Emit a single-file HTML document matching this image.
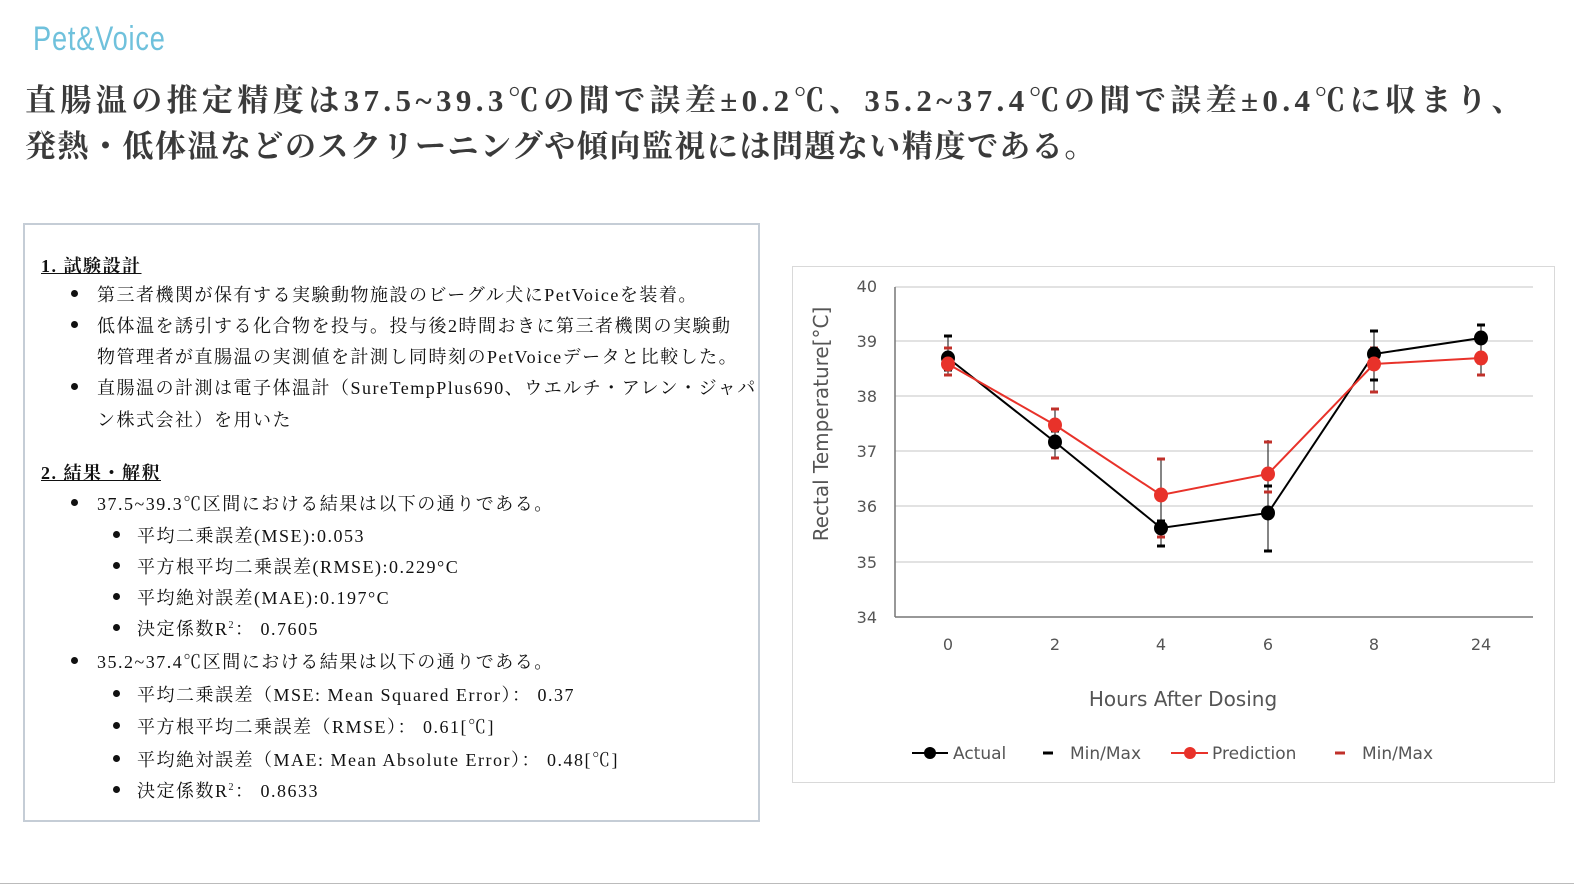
<!DOCTYPE html>
<html><head><meta charset="utf-8"><style>
body{margin:0;width:1574px;height:888px;background:#fff;position:relative;overflow:hidden;font-family:"Liberation Serif","Noto Serif CJK SC",serif;}
.logo{position:absolute;left:33px;top:20px;font-family:"Liberation Sans",sans-serif;font-size:34px;color:#6fc1dc;font-weight:300;letter-spacing:1px;transform:scaleX(0.8);transform-origin:left}
.title{position:absolute;left:25px;top:78px;font-size:31px;font-weight:bold;color:#3a3a3a;line-height:46px;white-space:nowrap}
.box{position:absolute;left:23px;top:223px;width:733px;height:595px;border:2px solid #c5cdd6;}
.box .t{position:absolute;font-size:18px;color:#111;white-space:nowrap;letter-spacing:1.5px}
.b{position:absolute;width:7px;height:7px;border-radius:50%;background:#111}
.h{font-weight:bold;text-decoration:underline}
.cbox{position:absolute;left:792px;top:266px;width:761px;height:515px;border:1px solid #d9d9d9}
.hr{position:absolute;left:0;top:883px;width:1574px;height:1px;background:#bbb}
</style></head><body>
<div class="logo">Pet&amp;Voice</div>
<div class="title"><div style="letter-spacing:4.4px">直腸温の推定精度は37.5~39.3℃の間で誤差±0.2℃、35.2~37.4℃の間で誤差±0.4℃に収まり、</div><div style="letter-spacing:1.5px">発熱・低体温などのスクリーニングや傾向監視には問題ない精度である。</div></div>
<div class="box">
<div class="t h" style="left:16px;top:27px">1. 試験設計</div>
<div class="b" style="left:46px;top:65px"></div><div class="t" style="left:72px;top:56px">第三者機関が保有する実験動物施設のビーグル犬にPetVoiceを装着。</div>
<div class="b" style="left:46px;top:96px"></div><div class="t" style="left:72px;top:87px">低体温を誘引する化合物を投与。投与後2時間おきに第三者機関の実験動</div>
<div class="t" style="left:72px;top:118px">物管理者が直腸温の実測値を計測し同時刻のPetVoiceデータと比較した。</div>
<div class="b" style="left:46px;top:158px"></div><div class="t" style="left:72px;top:149px">直腸温の計測は電子体温計（SureTempPlus690、ウエルチ・アレン・ジャパ</div>
<div class="t" style="left:72px;top:181px">ン株式会社）を用いた</div>
<div class="t h" style="left:16px;top:234px">2. 結果・解釈</div>
<div class="b" style="left:46px;top:274px"></div><div class="t" style="left:72px;top:265px">37.5~39.3℃区間における結果は以下の通りである。</div>
<div class="b" style="left:88px;top:306px"></div><div class="t" style="left:112px;top:297px">平均二乗誤差(MSE):0.053</div>
<div class="b" style="left:88px;top:337px"></div><div class="t" style="left:112px;top:328px">平方根平均二乗誤差(RMSE):0.229°C</div>
<div class="b" style="left:88px;top:368px"></div><div class="t" style="left:112px;top:359px">平均絶対誤差(MAE):0.197°C</div>
<div class="b" style="left:88px;top:399px"></div><div class="t" style="left:112px;top:390px">決定係数R<sup style="font-size:10px">2</sup>： 0.7605</div>
<div class="b" style="left:46px;top:432px"></div><div class="t" style="left:72px;top:423px">35.2~37.4℃区間における結果は以下の通りである。</div>
<div class="b" style="left:88px;top:465px"></div><div class="t" style="left:112px;top:456px">平均二乗誤差（MSE: Mean Squared Error）： 0.37</div>
<div class="b" style="left:88px;top:497px"></div><div class="t" style="left:112px;top:488px">平方根平均二乗誤差（RMSE）： 0.61[℃]</div>
<div class="b" style="left:88px;top:530px"></div><div class="t" style="left:112px;top:521px">平均絶対誤差（MAE: Mean Absolute Error）： 0.48[℃]</div>
<div class="b" style="left:88px;top:561px"></div><div class="t" style="left:112px;top:552px">決定係数R<sup style="font-size:10px">2</sup>： 0.8633</div>
</div>
<div class="cbox"></div>
<svg style="position:absolute;left:0;top:0" width="1574" height="888" font-family="DejaVu Sans, sans-serif">
<g stroke="#d9d9d9" stroke-width="1.5">
<line x1="895" x2="1533" y1="287" y2="287"/><line x1="895" x2="1533" y1="341" y2="341"/><line x1="895" x2="1533" y1="396" y2="396"/><line x1="895" x2="1533" y1="451" y2="451"/><line x1="895" x2="1533" y1="506" y2="506"/><line x1="895" x2="1533" y1="562" y2="562"/>
</g>
<line x1="895" x2="895" y1="287" y2="617" stroke="#777" stroke-width="1.5"/>
<line x1="895" x2="1533" y1="617" y2="617" stroke="#777" stroke-width="1.5"/>
<g font-size="16" fill="#555" text-anchor="end">
<text x="877" y="292">40</text><text x="877" y="347">39</text><text x="877" y="402">38</text><text x="877" y="457">37</text><text x="877" y="512">36</text><text x="877" y="568">35</text><text x="877" y="623">34</text></g>
<g font-size="16" fill="#555" text-anchor="middle">
<text x="948" y="650">0</text><text x="1055" y="650">2</text><text x="1161" y="650">4</text><text x="1268" y="650">6</text><text x="1374" y="650">8</text><text x="1481" y="650">24</text></g>
<text x="1183" y="706" font-size="20" fill="#555" text-anchor="middle">Hours After Dosing</text>
<text transform="translate(828,424) rotate(-90)" font-size="20" fill="#555" text-anchor="middle">Rectal Temperature[°C]</text>
<g stroke="#333" stroke-width="1.2">
<line x1="948" x2="948" y1="336" y2="375"/><line x1="1055" x2="1055" y1="409" y2="458"/><line x1="1161" x2="1161" y1="459" y2="546"/><line x1="1268" x2="1268" y1="440" y2="551"/><line x1="1374" x2="1374" y1="331" y2="392"/><line x1="1481" x2="1481" y1="325" y2="375"/>
</g>
<g stroke="#000" stroke-width="3">
<line x1="944" x2="952" y1="336" y2="336"/><line x1="944" x2="952" y1="370" y2="370"/>
<line x1="1051" x2="1059" y1="431" y2="431"/><line x1="1157" x2="1165" y1="521" y2="521"/><line x1="1157" x2="1165" y1="546" y2="546"/>
<line x1="1264" x2="1272" y1="486" y2="486"/><line x1="1264" x2="1272" y1="551" y2="551"/>
<line x1="1370" x2="1378" y1="331" y2="331"/><line x1="1370" x2="1378" y1="380" y2="380"/>
<line x1="1477" x2="1485" y1="325" y2="325"/><line x1="1477" x2="1485" y1="363" y2="363"/>
</g>
<g stroke="#c0302a" stroke-width="3">
<line x1="944" x2="952" y1="348" y2="348"/><line x1="944" x2="952" y1="375" y2="375"/>
<line x1="1051" x2="1059" y1="409" y2="409"/><line x1="1051" x2="1059" y1="458" y2="458"/>
<line x1="1157" x2="1165" y1="459" y2="459"/><line x1="1157" x2="1165" y1="537" y2="537"/>
<line x1="1264" x2="1272" y1="442" y2="442"/><line x1="1264" x2="1272" y1="492" y2="492"/>
<line x1="1370" x2="1378" y1="348" y2="348"/><line x1="1370" x2="1378" y1="392" y2="392"/>
<line x1="1477" x2="1485" y1="337" y2="337"/><line x1="1477" x2="1485" y1="375" y2="375"/>
</g>
<polyline points="948,358 1055,442 1161,528 1268,513 1374,354 1481,338" fill="none" stroke="#000" stroke-width="2"/>
<polyline points="948,364 1055,425 1161,495 1268,474 1374,364 1481,358" fill="none" stroke="#e8322a" stroke-width="2"/>
<g fill="#000"><ellipse cx="948" cy="358" rx="7" ry="7.5"/><ellipse cx="1055" cy="442" rx="7" ry="7.5"/><ellipse cx="1161" cy="528" rx="7" ry="7.5"/><ellipse cx="1268" cy="513" rx="7" ry="7.5"/><ellipse cx="1374" cy="354" rx="7" ry="7.5"/><ellipse cx="1481" cy="338" rx="7" ry="7.5"/></g>
<g fill="#e8322a"><ellipse cx="948" cy="364" rx="7" ry="7.5"/><ellipse cx="1055" cy="425" rx="7" ry="7.5"/><ellipse cx="1161" cy="495" rx="7" ry="7.5"/><ellipse cx="1268" cy="474" rx="7" ry="7.5"/><ellipse cx="1374" cy="364" rx="7" ry="7.5"/><ellipse cx="1481" cy="358" rx="7" ry="7.5"/></g>
<g font-size="17" fill="#555">
<line x1="912" x2="948" y1="753" y2="753" stroke="#000" stroke-width="2"/><circle cx="930" cy="753" r="6" fill="#000"/><text x="953" y="759">Actual</text>
<line x1="1043" x2="1053" y1="753" y2="753" stroke="#000" stroke-width="3"/><text x="1070" y="759">Min/Max</text>
<line x1="1171" x2="1208" y1="753" y2="753" stroke="#e8322a" stroke-width="2"/><circle cx="1190" cy="753" r="6" fill="#e8322a"/><text x="1212" y="759">Prediction</text>
<line x1="1335" x2="1345" y1="753" y2="753" stroke="#c0302a" stroke-width="3"/><text x="1362" y="759">Min/Max</text>
</g>
</svg>
<div class="hr"></div>
</body></html>
